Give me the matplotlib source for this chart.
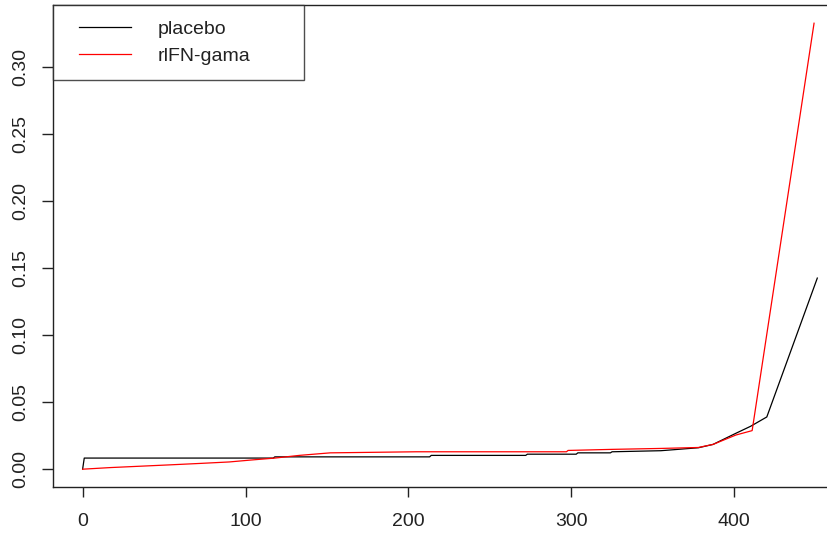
import matplotlib
matplotlib.use("Agg")
import matplotlib.pyplot as plt
from matplotlib.legend_handler import HandlerLine2D

plt.rcParams["font.family"] = ["Liberation Sans", "DejaVu Sans"]

# cumulative curves
placebo_x = [0, 1, 117, 118, 213, 214, 272, 273, 303, 304, 324, 325, 355, 378, 387, 401, 410, 420, 451]
placebo_y = [0.0, 0.0083, 0.0083, 0.0092, 0.0092, 0.0103, 0.0103, 0.0112, 0.0112, 0.0122, 0.0122, 0.013,
             0.0138, 0.016, 0.0185, 0.0268, 0.032, 0.039, 0.1427]

ifn_x = [0, 17, 35, 53, 72, 90, 103, 118, 133, 152, 205, 297, 298, 325, 355, 378, 387, 401, 411, 449]
ifn_y = [0.0, 0.0012, 0.0022, 0.0032, 0.0043, 0.0054, 0.0068, 0.0083, 0.0103, 0.0122, 0.013, 0.013,
         0.014, 0.0148, 0.0155, 0.0162, 0.0185, 0.0255, 0.0288, 0.333]

labels = ["placebo", "rlFN-gama"]
x_ticks = [0, 100, 200, 300, 400]
y_ticks = [0.00, 0.05, 0.10, 0.15, 0.20, 0.25, 0.30]

W, H = 827, 539
fig = plt.figure(figsize=(W / 100, H / 100), dpi=100)
# right edge of the box sits outside the picture (cropped like the original)
left, right, top, bottom = 53.3, 845, 5, 487
ax = fig.add_axes([left / W, 1 - bottom / H, (right - left) / W, (bottom - top) / H])

l1, = ax.plot(placebo_x, placebo_y, color="black", lw=0.9, label=labels[0])
l2, = ax.plot(ifn_x, ifn_y, color="red", lw=0.9, label=labels[1])

ax.set_xlim(-18, 468)
ax.set_ylim(-0.0133, 0.3466)

ax.set_xticks(x_ticks)
ax.set_xticklabels([str(t) for t in x_ticks])
ax.set_yticks(y_ticks)
ax.set_yticklabels([f"{t:.2f}" for t in y_ticks], rotation=90, va="center")

for s in ax.spines.values():
    s.set_color("#222222")
    s.set_linewidth(1.0)
ax.tick_params(axis="x", length=7.5, width=1.0, pad=11, labelsize=14, colors="#222222")
ax.tick_params(axis="y", length=8, width=1.0, pad=9, labelsize=14, colors="#222222")

# R-style legend box, wider than its contents
leg_w = (304 - left) / (right - left)
leg = ax.legend(handles=[l1, l2], loc="upper left", bbox_to_anchor=(0, 1, leg_w, 0),
                mode="expand", fontsize=14, frameon=True, fancybox=False, borderaxespad=0,
                handlelength=3.22, handletextpad=1.34, borderpad=0.8, labelspacing=0.45,
                edgecolor="#222222",
                handler_map={l1: HandlerLine2D(xpad=0.54), l2: HandlerLine2D(xpad=0.54)})
leg.get_frame().set_linewidth(1.0)
leg.get_frame().set_boxstyle("square", pad=0)
for t in leg.get_texts():
    t.set_color("#222222")

fig.savefig("out.png", dpi=100)
